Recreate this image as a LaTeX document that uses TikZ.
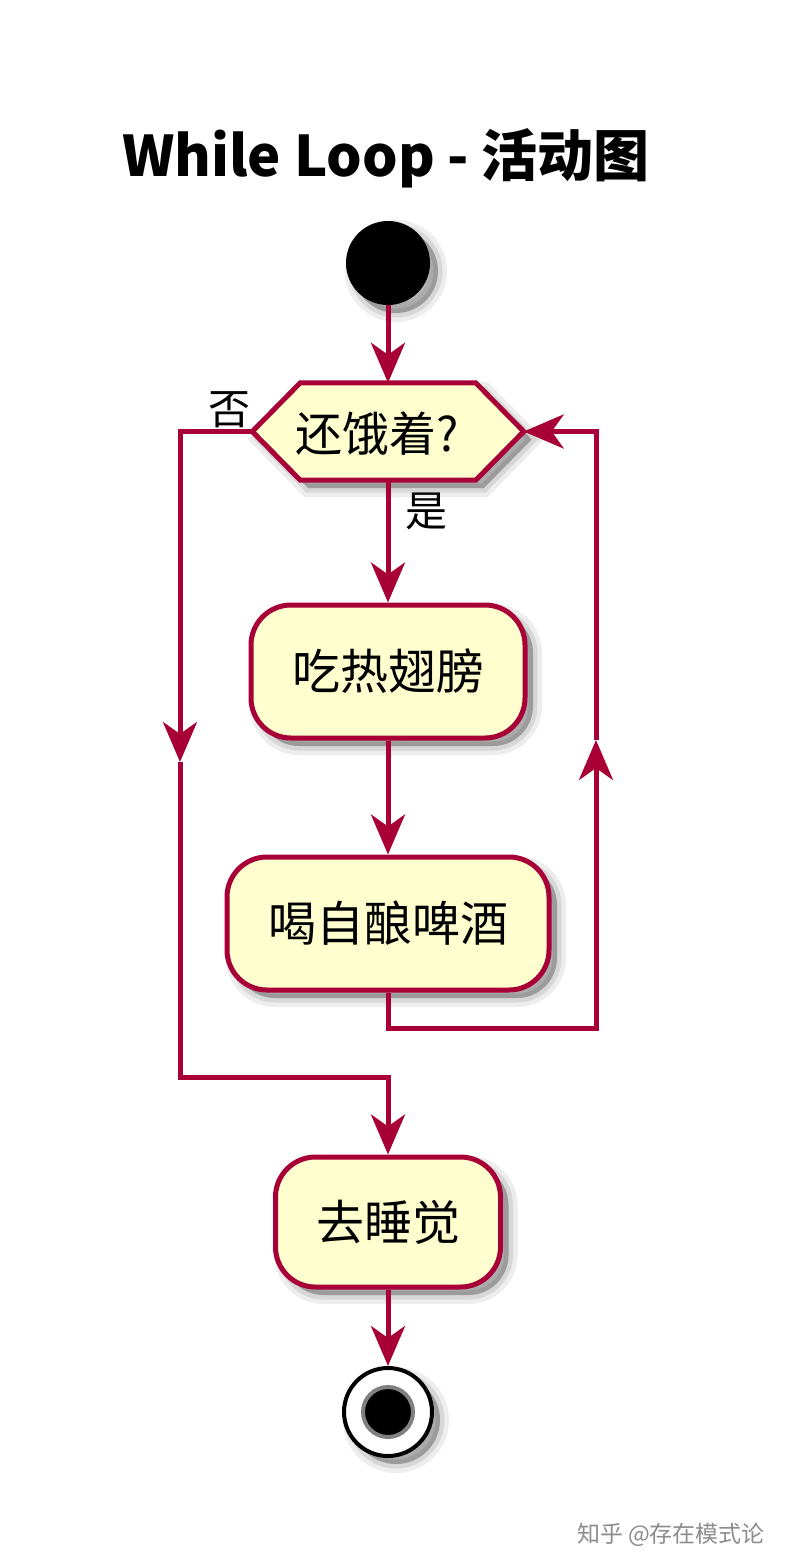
\documentclass[tikz,border=0pt]{standalone}
\usepackage{fontspec}
\setmainfont{Noto Sans CJK SC}
\usetikzlibrary{arrows.meta,shadows,backgrounds,positioning}
\definecolor{umlred}{HTML}{A80036}
\definecolor{umlfill}{HTML}{FEFECE}
\tikzset{
  umlshadow/.style={
    drop shadow={opacity=0.07,shadow xshift=8pt,shadow yshift=-8pt,fill=black,draw=black,line width=18pt},
    drop shadow={opacity=0.09,shadow xshift=8pt,shadow yshift=-8pt,fill=black,draw=black,line width=9pt},
    drop shadow={opacity=0.14,shadow xshift=8pt,shadow yshift=-8pt,fill=black,draw=none}},
  umltip/.style={-{Stealth[length=40pt,width=34pt,inset=12pt]}},
  flow/.style={draw=umlred,line width=5pt},
  actbox/.style={draw=umlred,line width=5pt,fill=umlfill,rounded corners=40pt,
    inner sep=0pt,font=\fontsize{48}{54}\selectfont,umlshadow},
  lbl/.style={font=\fontsize{42}{48}\selectfont,inner sep=0pt},
}
\begin{document}
\begin{tikzpicture}[x=1pt,y=-1pt]
\begin{scope}[on background layer]
\fill[white] (0,0) rectangle (788,1568);
\end{scope}
\useasboundingbox (0,0) rectangle (788,1568);

\node[font=\fontsize{56}{60}\selectfont\bfseries,anchor=base,inner sep=0pt] (title) at (386,176) {While Loop - 活动图};

\node[circle,fill=black,minimum size=84pt,inner sep=0pt,umlshadow] (start) at (388,263) {};

% hexagon decision
\node[minimum width=271pt,minimum height=97pt,inner sep=0pt] (hex) at (388,431.5) {};
\begin{scope}[on background layer]
\path[draw=umlred,line width=5pt,fill=umlfill,line join=miter,umlshadow]
  (hex.west) -- ([xshift=48pt]hex.north west) -- ([xshift=-48pt]hex.north east)
  -- (hex.east) -- ([xshift=-48pt]hex.south east) -- ([xshift=48pt]hex.south west) -- cycle;
\end{scope}
\node[font=\fontsize{47}{52}\selectfont,inner sep=0pt] (hextext) at (377,434) {还饿着?};

\node[actbox,minimum width=274pt,minimum height=133pt] (eat) at (388,671.5) {吃热翅膀};
\node[actbox,minimum width=322pt,minimum height=133pt] (drink) at (388,923.5) {喝自酿啤酒};
\node[actbox,minimum width=225pt,minimum height=130pt] (sleep) at (388,1222) {去睡觉};

% end node
\node[circle,draw=black,line width=4pt,fill=white,minimum size=88pt,inner sep=0pt,umlshadow] (stop) at (388,1412) {};
\node[circle,draw=black!50,line width=4pt,fill=black,minimum size=50pt,inner sep=0pt] (stopin) at (stop) {};

% labels
\node[lbl] (no) at (229,410) {否};
\node[lbl] (yes) at (426,511) {是};

% coordinates
\coordinate (lTop) at (180,431.5);
\coordinate (lArr) at (180,762);
\coordinate (lBot) at (180,1077);
\coordinate (lJoin) at (388,1077);
\coordinate (rBot) at (596,1028);
\coordinate (rArr) at (596,740);
\coordinate (rTop) at (596,431.5);

% connectors
\draw[flow,umltip] (start) -- (hex.north);
\draw[flow,umltip] (hex.south) -- (eat.north);
\draw[flow,umltip] (eat.south) -- (drink.north);
\draw[flow,umltip] (hex.west) -- (lTop) -- (lArr);
\draw[flow,umltip] (lArr) -- (lBot) -- (lJoin) -- (sleep.north);
\draw[flow,umltip] (drink.south) |- (rBot) -- (rArr);
\draw[flow,umltip] (rArr) -- (rTop) -- (hex.east);
\draw[flow,umltip] (sleep.south) -- (stop.north);

% watermark
\node[font=\fontsize{23}{26}\selectfont,text=black!45,inner sep=0pt] (wm) at (671,1535) {知乎 @存在模式论};
\end{tikzpicture}
\end{document}
